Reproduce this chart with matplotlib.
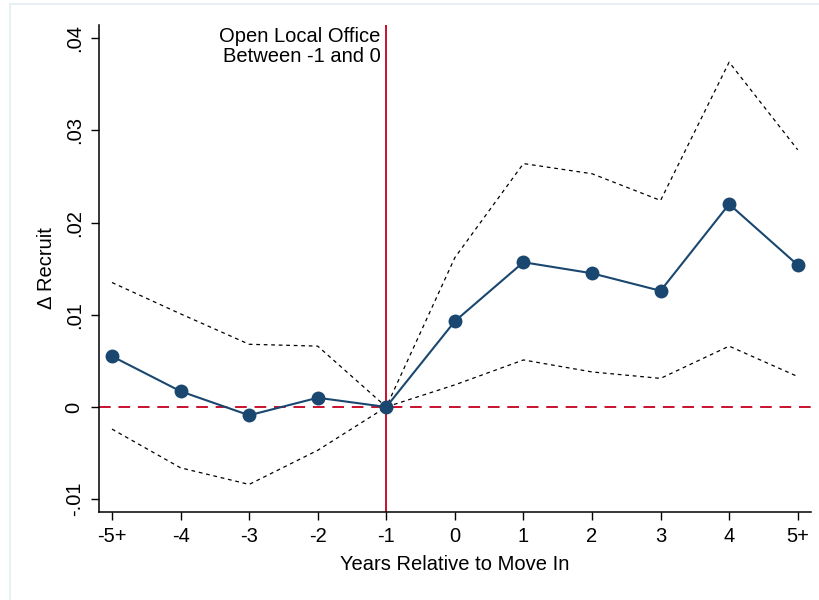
import numpy as np
import matplotlib
matplotlib.use("Agg")
import matplotlib.pyplot as plt

plt.rcParams['font.family'] = ['Liberation Sans', 'DejaVu Sans']

# event time (-5 = "-5+", 5 = "5+")
years = [-5, -4, -3, -2, -1, 0, 1, 2, 3, 4, 5]
year_labels = ["-5+", "-4", "-3", "-2", "-1", "0", "1", "2", "3", "4", "5+"]

# point estimates and 95% bounds
coef = [0.0055, 0.0017, -0.0009, 0.0010, 0.0, 0.0093, 0.0157, 0.0145, 0.0126, 0.0220, 0.0154]
ci_hi = [0.0135, 0.0101, 0.0068, 0.0066, 0.0, 0.0162, 0.0264, 0.0253, 0.0224, 0.0374, 0.0279]
ci_lo = [-0.0024, -0.0066, -0.0084, -0.0047, 0.0, 0.0024, 0.0051, 0.0038, 0.0031, 0.0066, 0.0033]

y_ticks = [-0.01, 0, 0.01, 0.02, 0.03, 0.04]
y_tick_labels = ["-.01", "0", ".01", ".02", ".03", ".04"]

navy = "#1a476f"
cranberry = "#c8102e"
fs = 14.5

fig = plt.figure(figsize=(8.2, 6), dpi=100)
ax = fig.add_axes([0.1207, 0.1467, 0.868, 0.8116])

ax.axhline(0, color=cranberry, lw=1.4, ls=(0, (6, 4)), zorder=1)
ax.axvline(-1, color=cranberry, lw=1.4, zorder=1)

ax.plot(years, ci_hi, color="black", lw=0.9, ls=(0, (3, 3)), zorder=2)
ax.plot(years, ci_lo, color="black", lw=0.9, ls=(0, (3, 3)), zorder=2)
ax.plot(years, coef, color=navy, lw=1.5, marker="o", ms=9, zorder=3)

ax.text(-1.08, 0.0412, "Open Local Office\nBetween -1 and 0", ha="right", va="top",
        fontsize=fs, linespacing=1.05)

ax.set_xlim(-5.19, 5.19)
ax.set_ylim(-0.01139, 0.04143)
ax.set_xticks(years)
ax.set_xticklabels(year_labels, fontsize=fs)
ax.set_yticks(y_ticks)
ax.set_yticklabels(y_tick_labels, fontsize=fs, rotation=90, va="center")
ax.tick_params(length=6, width=1, pad=5)

ax.set_xlabel("Years Relative to Move In", fontsize=fs, labelpad=6)
ax.set_ylabel("Δ Recruit", fontsize=fs, labelpad=6)

ax.spines["top"].set_visible(False)
ax.spines["right"].set_visible(False)
ax.spines["left"].set_linewidth(1.1)
ax.spines["bottom"].set_linewidth(1.1)

# faint outer frame like the graph region border
fig.patches.append(plt.Rectangle((0.012, -0.01), 1.0, 1.003, transform=fig.transFigure,
                                 fill=False, edgecolor="#e3edf1", lw=1.2))

fig.savefig("out.png", dpi=100)
